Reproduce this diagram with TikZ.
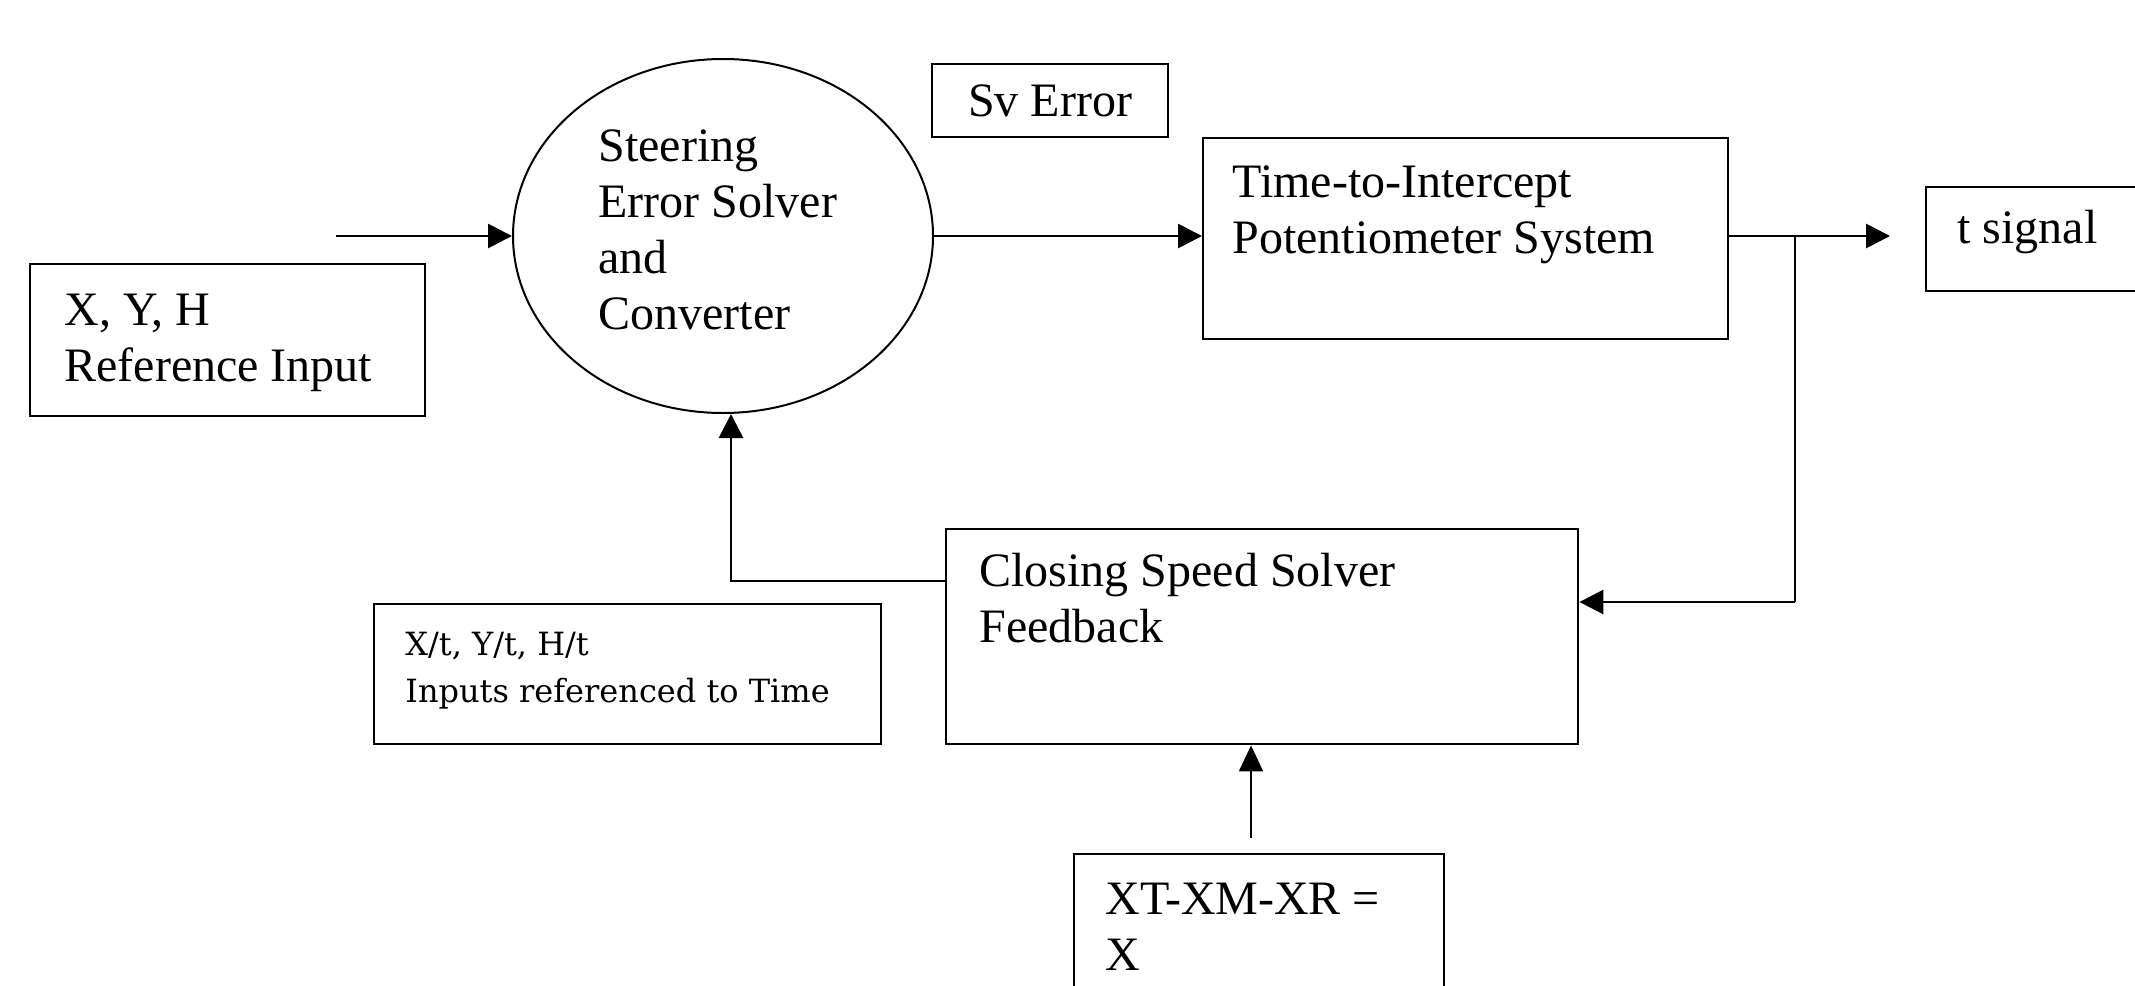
\documentclass[tikz,border=0pt]{standalone}
\usepackage{fontspec}
\setmainfont{Liberation Serif}
\newfontfamily\slabfont{DejaVu Serif}
\usetikzlibrary{arrows.meta,shapes.geometric}
\begin{document}
\begin{tikzpicture}[x=0.5pt,y=-0.5pt,
  box/.style={draw, line width=1.2pt, rectangle, inner sep=0pt, anchor=north west},
  txt/.style={anchor=base west, inner sep=0pt, align=left, font=\fontsize{24pt}{28pt}\selectfont},
  smalltxt/.style={anchor=base west, inner sep=0pt, align=left, font=\slabfont\fontsize{16pt}{23.5pt}\selectfont},
  arr/.style={line width=1.4pt, -{Triangle[length=12pt,width=12pt]}},
  thinarr/.style={line width=1pt, -{Triangle[length=13pt,width=12pt]}},
  line/.style={line width=1.4pt}]
\useasboundingbox (0,0) rectangle (2135,985);
\clip (0,0) rectangle (2135,985);
\fill[white] (0,0) rectangle (2135,985);

% boxes
\node[box, minimum width=197.5pt, minimum height=76pt] (ref) at (29,263) {};
\node[draw, ellipse, line width=1pt, inner sep=0pt, minimum width=210pt, minimum height=177pt] (sol) at (723,236) {};
\node[draw, line width=1.2pt, rectangle, inner sep=0pt, minimum width=118pt, minimum height=36.5pt,
      font=\fontsize{24pt}{28pt}\selectfont] (sv) at (1050,100.5) {Sv Error};
\node[box, minimum width=262.5pt, minimum height=100.5pt] (tti) at (1202,137) {};
\node[box, minimum width=137.5pt, minimum height=52pt] (tsig) at (1925,186) {};
\node[box, minimum width=316pt, minimum height=107.5pt] (csb) at (945,528) {};
\node[box, minimum width=253.5pt, minimum height=70pt] (xtr) at (373,603) {};
\node[box, minimum width=185pt, minimum height=78.5pt] (xt) at (1073,853) {};

% texts (anchor at baseline of the last line)
\node[txt] (reftxt) at (64,381) {X, Y, H\\Reference Input};
\node[txt] (soltxt) at (598,329) {Steering\\Error Solver\\and\\Converter};
\node[txt] (ttitxt) at (1232,253) {Time-to-Intercept\\Potentiometer System};
\node[txt] (tsigtxt) at (1957,243) {t signal};
\node[txt] (csbtxt) at (979,642) {Closing Speed Solver\\Feedback};
\node[smalltxt] (xtrtxt) at (405,702) {X/t, Y/t, H/t\\Inputs referenced to Time};
\node[txt] (xttxt) at (1105,970) {XT-XM-XR =\\X};

% connectors
\coordinate (inp) at (336,236);
\coordinate (br) at (1795,236);
\coordinate (tip) at (1890,236);
\coordinate (fbk) at (1795,602);
\coordinate (fl) at (731,581);
\coordinate (xa) at (1251,838);

\draw[arr] (inp) -- (sol.west);
\draw[arr] (sol.east) -- (sol.east -| tti.west);
\draw[arr] (tti.east |- br) -- (tip);
\draw[line] (br) -- (fbk);
\draw[arr] (fbk) -- (fbk -| csb.east);
\draw[arr] (csb.west |- fl) -- (fl) -- (fl |- sol.south);
\draw[thinarr] (xa) -- (xa |- csb.south);
\end{tikzpicture}
\end{document}
